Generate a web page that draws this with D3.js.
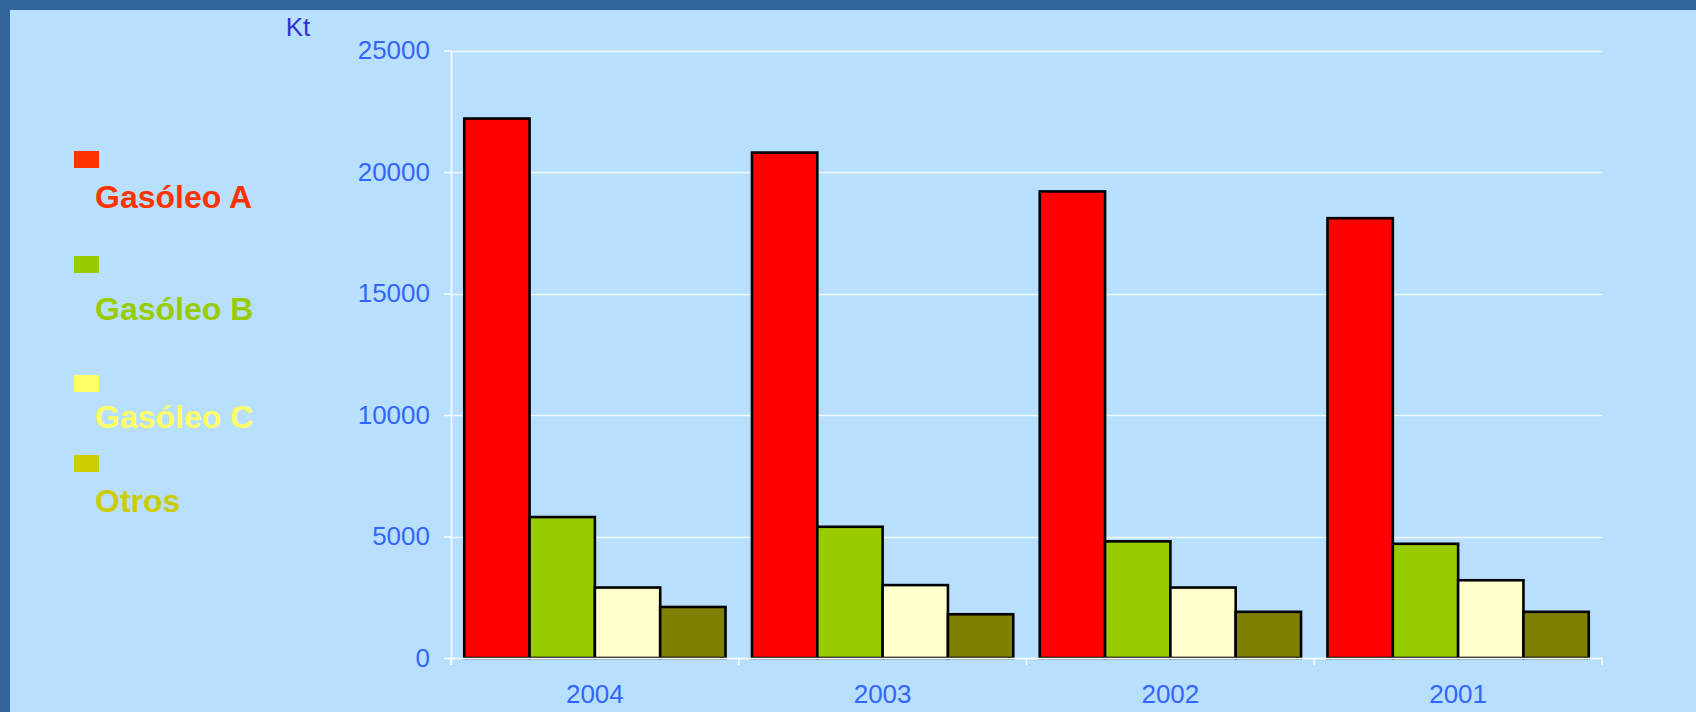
<!DOCTYPE html>
<html>
<head>
<meta charset="utf-8">
<script src="https://cdn.jsdelivr.net/npm/d3@7"></script>
<style>
html,body{margin:0;padding:0;background:#B8E0FE;}
svg{display:block;}
</style>
</head>
<body>
<svg id="chart" width="1696" height="712"></svg>
<script>
const categories = ["2004", "2003", "2002", "2001"];
const seriesNames = ["Gasóleo A", "Gasóleo B", "Gasóleo C", "Otros"];
const gasoleoA = [22200, 20800, 19200, 18100];
const gasoleoB = [5800, 5400, 4800, 4700];
const gasoleoC = [2900, 3000, 2900, 3200];
const otros = [2100, 1800, 1900, 1900];
const yTicks = [0, 5000, 10000, 15000, 20000, 25000];
const unitLabel = "Kt";

const barColors = ["#FF0000", "#99CC00", "#FFFFCC", "#808000"];
const legendSwatch = ["#FF3300", "#99CC00", "#FFFF66", "#CCCC00"];
const legendText = ["#FF3300", "#99CC00", "#FFFF66", "#CCCC00"];
const seriesValues = [gasoleoA, gasoleoB, gasoleoC, otros];

(function(){
const svg = d3.select("#chart");
const W = 1696, H = 712;
const FONT = "Liberation Sans, Arial, sans-serif";

svg.append("rect").attr("x",0).attr("y",0).attr("width",W).attr("height",H).attr("fill","#31649A");
svg.append("rect").attr("x",10).attr("y",10).attr("width",W-10).attr("height",H-10).attr("fill","#B8E0FE");

const pLeft = 451, pRight = 1602, pTop = 50.5, pBottom = 658;

const y = d3.scaleLinear().domain([0, 25000]).range([pBottom, pTop]);
const x0 = d3.scaleBand().domain(categories).range([pLeft, pRight]).paddingInner(0.092).paddingOuter(0.046);
const x1 = d3.scaleBand().domain(seriesNames).range([0, x0.bandwidth()]);

// gridlines
svg.append("g").selectAll("line").data(yTicks.filter(d=>d>0)).join("line")
  .attr("x1", pLeft).attr("x2", pRight)
  .attr("y1", d=>Math.round(y(d))+0.5).attr("y2", d=>Math.round(y(d))+0.5)
  .attr("stroke", "#FFFFFF").attr("stroke-opacity", 0.8).attr("stroke-width", 1.3);

// y axis
const yAxis = d3.axisLeft(y).tickValues(yTicks).tickSize(7).tickPadding(14).tickFormat(d3.format("d"));
const gy = svg.append("g").attr("transform", `translate(${pLeft},0)`).call(yAxis);
gy.select(".domain").remove();
gy.selectAll(".tick line").attr("stroke", "#FFFFFF").attr("stroke-width", 1.5);
gy.selectAll(".tick text").attr("fill", "#3366FF").attr("font-family", FONT).attr("font-size", 26);
svg.append("line").attr("x1", pLeft+0.5).attr("x2", pLeft+0.5).attr("y1", pTop).attr("y2", pBottom+7)
  .attr("stroke", "#FFFFFF").attr("stroke-width", 1.5);

// bars
const groups = svg.append("g").selectAll("g").data(categories).join("g")
  .attr("transform", c => `translate(${x0(c)},0)`);
groups.selectAll("rect").data((c, i) => seriesNames.map((s, j) => ({s, j, v: seriesValues[j][i]}))).join("rect")
  .attr("x", d => x1(d.s))
  .attr("y", d => y(d.v))
  .attr("width", x1.bandwidth())
  .attr("height", d => y(0) - y(d.v))
  .attr("fill", d => barColors[d.j])
  .attr("stroke", "#000000").attr("stroke-width", 2.6);

// x axis
const xTickPos = categories.map(c => x0(c) - (x0.step()-x0.bandwidth())/2).concat([pRight]);
svg.append("line").attr("x1", pLeft).attr("x2", pRight).attr("y1", pBottom+0.5).attr("y2", pBottom+0.5)
  .attr("stroke", "#FFFFFF").attr("stroke-width", 1.5);
svg.append("g").selectAll("line").data(xTickPos).join("line")
  .attr("x1", d=>d).attr("x2", d=>d).attr("y1", pBottom).attr("y2", pBottom+7)
  .attr("stroke", "#FFFFFF").attr("stroke-width", 1.5);
svg.append("g").selectAll("text").data(categories).join("text")
  .attr("x", c => x0(c) + x0.bandwidth()/2).attr("y", 703)
  .attr("text-anchor", "middle")
  .attr("fill", "#3366FF").attr("font-family", FONT).attr("font-size", 26)
  .text(d => d);

// unit label
svg.append("text").attr("x", 298).attr("y", 36).attr("text-anchor", "middle")
  .attr("fill", "#3333CC").attr("font-family", FONT).attr("font-size", 26)
  .text(unitLabel);

// legend
const legendSwatchY = [151, 256, 375, 455];
const legendTextY = [208, 320, 428, 512];
const lg = svg.append("g");
lg.selectAll("rect").data(seriesNames).join("rect")
  .attr("x", 74).attr("y", (d,i)=>legendSwatchY[i]).attr("width", 25).attr("height", 17)
  .attr("fill", (d,i)=>legendSwatch[i]);
lg.selectAll("text").data(seriesNames).join("text")
  .attr("x", 95).attr("y", (d,i)=>legendTextY[i])
  .attr("fill", (d,i)=>legendText[i])
  .attr("font-family", FONT).attr("font-weight", "bold").attr("font-size", 32)
  .text(d=>d);
})();
</script>
</body>
</html>
